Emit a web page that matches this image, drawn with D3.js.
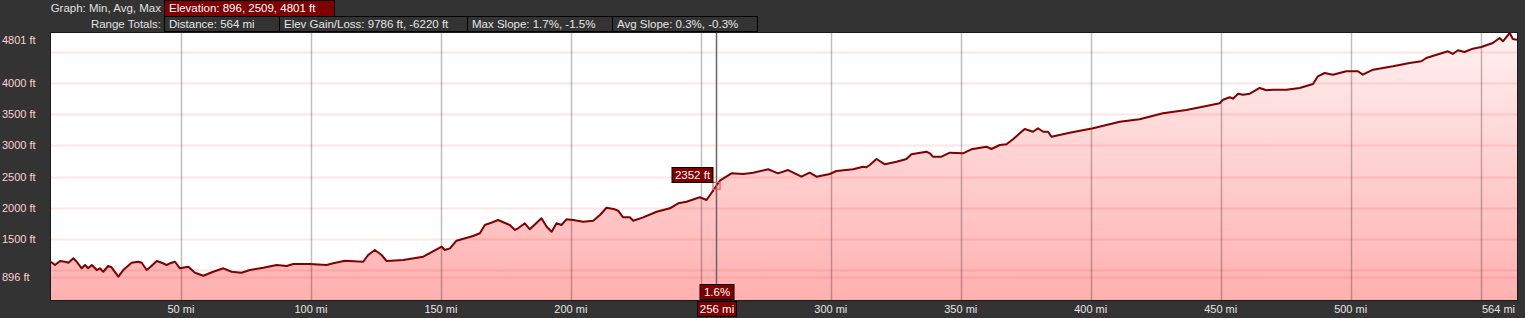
<!DOCTYPE html>
<html lang="en">
<head>
<meta charset="UTF-8">
<title>Elevation profile</title>
<script src="https://cdn.jsdelivr.net/npm/d3@7"></script>
<style>
  body { margin: 0; background: #333; }
  svg { display: block; font-family: "Liberation Sans", Arial, sans-serif; }
</style>
</head>
<body>
<script>
    // profile: distance (mi) and elevation (ft)
    const miles = [0, 1.5, 3.5, 5.4, 6.7, 8.6, 9.9, 11.8, 13.1, 14.3, 15.7, 17.6, 18.8, 20.1, 22.0, 23.3, 25.9, 27.8,
        31.0, 33.6, 34.9, 36.8, 38.1, 40.7, 42.6, 44.5, 45.8, 47.7, 49.6, 52.8, 55.4, 58.6, 62.4, 66.3, 69.5, 73.3,
        76.5, 81.7, 86.8, 90.7, 93.2, 99.6, 106.0, 108.6, 113.1, 120.1, 122.0, 124.6, 127.2, 129.1, 135.5, 143.2,
        150.3, 151.5, 153.5, 156.0, 162.4, 165.0, 166.9, 168.8, 172.0, 176.5, 178.5, 179.7, 182.3, 184.2, 188.7,
        190.7, 192.6, 194.5, 196.4, 198.3, 200.9, 204.7, 208.6, 211.2, 213.7, 216.9, 218.2, 220.1, 222.7, 224.0,
        227.8, 233.0, 238.1, 241.3, 244.5, 249.6, 252.2, 256.0, 257.3, 261.8, 266.3, 270.1, 275.9, 279.7, 283.6,
        288.7, 291.9, 294.5, 299.6, 302.2, 308.6, 312.4, 313.7, 315.0, 317.6, 320.8, 325.3, 329.1, 331.0, 336.8,
        338.1, 339.3, 342.6, 345.8, 350.9, 354.1, 359.9, 361.8, 365.0, 367.6, 370.1, 372.7, 374.6, 377.8, 379.7,
        381.7, 383.6, 384.9, 391.9, 400.9, 411.2, 418.8, 427.8, 436.8, 444.5, 449.6, 450.9, 453.5, 454.7, 456.7,
        458.6, 461.2, 465.0, 467.6, 470.1, 475.3, 480.4, 485.5, 487.4, 490.0, 493.2, 498.3, 502.8, 504.7, 508.6,
        516.3, 522.7, 527.2, 529.1, 537.4, 539.3, 541.3, 543.8, 547.0, 550.3, 554.7, 557.3, 558.6, 561.2, 562.4, 564];
    const elevation = [1135, 1083, 1147, 1135, 1119, 1190, 1135, 1030, 1083, 1030, 1083, 1002, 1030, 975, 1067, 1046, 896, 1002,
        1119, 1135, 1119, 1002, 1046, 1147, 1119, 1083, 1110, 1135, 1030, 1055, 959, 911, 975, 1030, 975, 959,
        1002, 1039, 1083, 1067, 1099, 1099, 1083, 1110, 1151, 1135, 1243, 1323, 1243, 1147, 1163, 1216,
        1376, 1323, 1350, 1472, 1547, 1591, 1724, 1751, 1804, 1724, 1644, 1671, 1751, 1655, 1831,
        1696, 1616, 1751, 1724, 1815, 1804, 1777, 1793, 1884, 2001, 1975, 1953, 1847, 1847, 1793,
        1847, 1937, 1991, 2072, 2097, 2168, 2124, 2352, 2434, 2552, 2541, 2562, 2617, 2552, 2605,
        2498, 2562, 2498, 2541, 2589, 2617, 2658, 2649, 2686, 2782, 2697, 2738, 2782, 2857, 2899,
        2873, 2819, 2819, 2883, 2873, 2937, 2979, 2942, 3006, 3017, 3098, 3194, 3263, 3219, 3274,
        3219, 3219, 3139, 3203, 3274, 3380, 3418, 3514, 3567, 3631, 3675, 3732, 3771, 3748, 3828,
        3812, 3828, 3920, 3883, 3893, 3893, 3920, 3984, 4107, 4160, 4133, 4188, 4188, 4133, 4213,
        4268, 4321, 4348, 4401, 4508, 4465, 4524, 4497, 4550, 4577, 4641, 4721, 4668, 4801, 4705, 4694];

    const yTicks = [896, 1500, 2000, 2500, 3000, 3500, 4000, 4801];
    const yGrid = [896, 1000, 1500, 2000, 2500, 3000, 3500, 4000, 4500];
    const xTicks = [50, 100, 150, 200, 250, 300, 350, 400, 450, 500];
    const xGrid = [50, 100, 150, 200, 250, 300, 350, 400, 450, 500, 550];
    const totalMiles = 564;

    const cursorMile = 256;
    const cursorElev = 2352;
    const cursorSlope = "1.6%";

    const statsRow1 = ["Elevation: 896, 2509, 4801 ft"];
    const statsRow2 = ["Distance: 564 mi", "Elev Gain/Loss: 9786 ft, -6220 ft", "Max Slope: 1.7%, -1.5%", "Avg Slope: 0.3%, -0.3%"];
    const statsWidths2 = [115, 188, 145, 145];

    const width = 1525;
    const height = 318;
    const plot = { left: 51, right: 1517, top: 33, bottom: 300 };

    const svg = d3.select("body")
        .append("svg")
        .attr("width", width)
        .attr("height", height);

    svg.append("rect")
        .attr("width", width)
        .attr("height", height)
        .attr("fill", "#333");

    const x = d3.scaleLinear().domain([0, totalMiles]).range([plot.left, plot.right]);
    const y = d3.scaleLinear().domain([522, 4801]).range([plot.bottom, plot.top]);

    // fill gradient
    const grad = svg.append("defs").append("linearGradient")
        .attr("id", "fillGrad")
        .attr("gradientUnits", "userSpaceOnUse")
        .attr("x1", 0).attr("x2", 0)
        .attr("y1", plot.top).attr("y2", plot.bottom);
    grad.append("stop").attr("offset", 0).attr("stop-color", "#fff0f0");
    grad.append("stop").attr("offset", 1).attr("stop-color", "#ffb0b0");

    // plot background
    svg.append("rect")
        .attr("x", plot.left)
        .attr("y", plot.top)
        .attr("width", plot.right - plot.left)
        .attr("height", plot.bottom - plot.top)
        .attr("fill", "#fff");

    const data = miles.map((m, i) => ({ m: m, e: elevation[i] }));

    const area = d3.area()
        .x(d => x(d.m))
        .y0(plot.bottom)
        .y1(d => y(d.e));

    svg.append("path")
        .datum(data)
        .attr("d", area)
        .attr("fill", "url(#fillGrad)");

    // horizontal grid
    svg.append("g")
        .selectAll("line")
        .data(yGrid)
        .enter()
        .append("line")
        .attr("x1", plot.left)
        .attr("x2", plot.right)
        .attr("y1", d => Math.round(y(d)) + 0.5)
        .attr("y2", d => Math.round(y(d)) + 0.5)
        .attr("stroke", "rgba(255,0,0,0.1)")
        .attr("stroke-width", 2);

    // vertical grid
    svg.append("g")
        .selectAll("line")
        .data(xGrid)
        .enter()
        .append("line")
        .attr("x1", d => Math.round(x(d)) + 0.5)
        .attr("x2", d => Math.round(x(d)) + 0.5)
        .attr("y1", plot.top)
        .attr("y2", plot.bottom)
        .attr("stroke", "rgba(0,0,0,0.25)")
        .attr("stroke-width", 1.5);

    // profile line
    svg.append("path")
        .datum(data)
        .attr("d", d3.line().x(d => x(d.m)).y(d => y(d.e)))
        .attr("fill", "none")
        .attr("stroke", "#800000")
        .attr("stroke-width", 2)
        .attr("stroke-linejoin", "round");

    // plot border
    svg.append("rect")
        .attr("x", plot.left - 0.5)
        .attr("y", plot.top - 0.5)
        .attr("width", plot.right - plot.left + 1)
        .attr("height", plot.bottom - plot.top + 1)
        .attr("fill", "none")
        .attr("stroke", "#1a1a1a");

    // y labels
    svg.append("g")
        .selectAll("text")
        .data(yTicks)
        .enter()
        .append("text")
        .attr("x", 2)
        .attr("y", d => Math.max(y(d), plot.top + 7) + 4)
        .attr("fill", "#ffd0d0")
        .style("font-size", "11px")
        .text(d => d + " ft");

    const cx = Math.round(x(cursorMile)) + 0.5;
    const cy = y(cursorElev);

    // x labels (the one under the cursor tag is hidden)
    svg.append("g")
        .selectAll("text")
        .data(xTicks.filter(d => Math.abs(x(d) - cx) > 45))
        .enter()
        .append("text")
        .attr("x", d => x(d))
        .attr("y", 313)
        .attr("text-anchor", "middle")
        .attr("fill", "#e6e6e6")
        .style("font-size", "11px")
        .text(d => d + " mi");

    svg.append("text")
        .attr("x", x(totalMiles) - 2)
        .attr("y", 313)
        .attr("text-anchor", "end")
        .attr("fill", "#e6e6e6")
        .style("font-size", "11px")
        .text(totalMiles + " mi");

    // cursor
    svg.append("line")
        .attr("x1", cx).attr("x2", cx)
        .attr("y1", plot.top).attr("y2", plot.bottom)
        .attr("stroke", "#666")
        .attr("stroke-width", 1.5);

    svg.append("rect")
        .attr("x", cx - 3.5)
        .attr("y", cy - 3.5)
        .attr("width", 7)
        .attr("height", 7)
        .attr("fill", "none")
        .attr("stroke", "#ff5050")
        .attr("stroke-width", 1.2);

    function tag(textValue, xc, yTop, w, anchor) {
        const g = svg.append("g");
        const left = anchor === "end" ? xc - w : xc - w / 2;
        g.append("rect")
            .attr("x", left + 0.5)
            .attr("y", yTop + 0.5)
            .attr("width", w)
            .attr("height", 15)
            .attr("fill", "#800000")
            .attr("stroke", "#000");
        g.append("text")
            .attr("x", left + w / 2 + 0.5)
            .attr("y", yTop + 12)
            .attr("text-anchor", "middle")
            .attr("fill", "#fff")
            .style("font-size", "11.5px")
            .text(textValue);
    }
    tag(cursorElev + " ft", cx - 4, Math.round(cy) - 19, 41, "end");
    tag(cursorSlope, cx, 284, 34, "middle");
    tag(cursorMile + " mi", cx, 301, 39, "middle");

    // header
    svg.append("text")
        .attr("x", 161)
        .attr("y", 12)
        .attr("text-anchor", "end")
        .attr("fill", "#e0e0e0")
        .style("font-size", "11.5px")
        .text("Graph: Min, Avg, Max");

    svg.append("text")
        .attr("x", 161)
        .attr("y", 28)
        .attr("text-anchor", "end")
        .attr("fill", "#e0e0e0")
        .style("font-size", "11.5px")
        .text("Range Totals:");

    svg.append("rect")
        .attr("x", 164.5).attr("y", 0.5)
        .attr("width", 170).attr("height", 16)
        .attr("fill", "#800000")
        .attr("stroke", "#000");
    svg.append("text")
        .attr("x", 169)
        .attr("y", 12)
        .attr("fill", "#fff")
        .style("font-size", "11.5px")
        .text(statsRow1[0]);

    let bx = 164.5;
    statsRow2.forEach((s, i) => {
        svg.append("rect")
            .attr("x", bx).attr("y", 16.5)
            .attr("width", statsWidths2[i]).attr("height", 15)
            .attr("fill", "#333")
            .attr("stroke", "#000");
        svg.append("text")
            .attr("x", bx + 4.5)
            .attr("y", 28)
            .attr("fill", "#e6e6e6")
            .style("font-size", "11.5px")
            .text(s);
        bx += statsWidths2[i];
    });
</script>
</body>
</html>
